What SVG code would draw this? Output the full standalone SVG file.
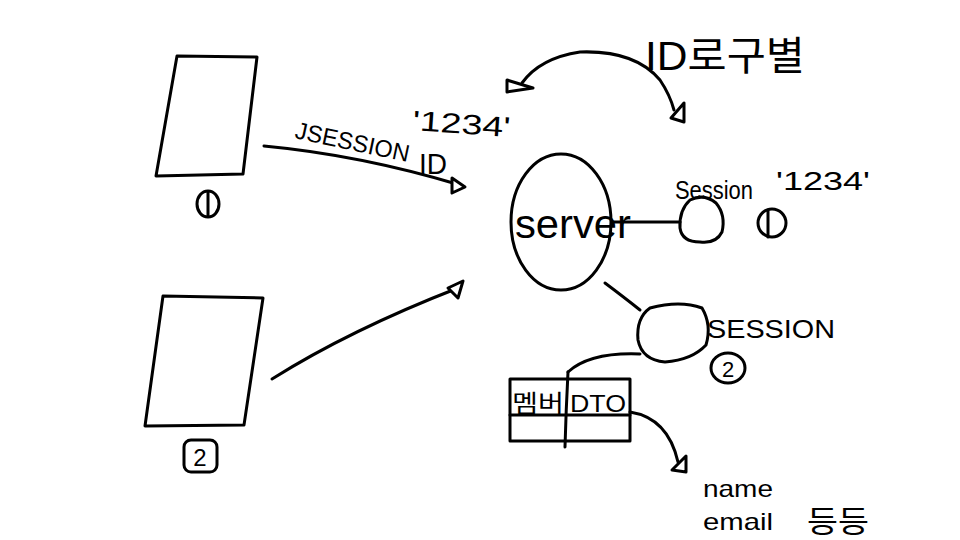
<svg xmlns="http://www.w3.org/2000/svg" width="960" height="540" viewBox="0 0 960 540">
<defs>
<style>
.s{fill:none;stroke:#000;stroke-width:3;stroke-linecap:round;stroke-linejoin:round}
.h{fill:#fff;stroke:#000;stroke-width:3;stroke-linejoin:round}
.t{font-family:"Liberation Sans","Noto Sans CJK KR",sans-serif;fill:#000}
</style>
</defs>
<rect width="960" height="540" fill="#fff"/>
<g id="client1">
<path class="s" d="M177,56 L257,57 L243,174 L156,176 Z"/>
<ellipse class="s" cx="208" cy="204" rx="11" ry="13"/>
<line class="s" x1="208" y1="192" x2="208" y2="216"/>
</g>
<g id="client2">
<path class="s" d="M163,296 L263,298 L244,425 L145,426 Z"/>
<rect class="s" x="184" y="440" width="33" height="32" rx="7"/>
<text class="t" x="200" y="466" font-size="24" text-anchor="middle">2</text>
</g>
<g id="server">
<ellipse class="s" cx="561" cy="222" rx="50" ry="68"/>
<text class="t" x="573" y="238" font-size="40" text-anchor="middle" textLength="116" lengthAdjust="spacingAndGlyphs">server</text>
</g>
<g id="session1">
<path class="s" d="M690,200 Q704,193 716,203 Q726,215 722,232 Q716,244 700,242 Q682,242 680,228 Q679,210 690,200 Z"/>
<text class="t" x="675" y="199" font-size="26" textLength="78" lengthAdjust="spacingAndGlyphs">Session</text>
<text class="t" x="776" y="190" font-size="26" textLength="94" lengthAdjust="spacingAndGlyphs">'1234'</text>
<ellipse class="s" cx="772" cy="223" rx="14" ry="14"/>
<line class="s" x1="768" y1="210" x2="768" y2="237"/>
</g>
<g id="session2">
<path class="s" d="M650,308 Q680,300 702,308 Q712,325 706,345 Q692,360 665,362 Q642,360 638,340 Q636,318 650,308 Z"/>
<text class="t" x="707" y="338" font-size="26" textLength="128" lengthAdjust="spacingAndGlyphs">SESSION</text>
<ellipse class="s" cx="728" cy="368" rx="17" ry="15"/>
<text class="t" x="728" y="377" font-size="22" text-anchor="middle">2</text>
</g>
<g id="dto">
<rect class="s" x="510" y="379" width="120" height="62"/>
<line class="s" x1="510" y1="415" x2="630" y2="415"/>
<path class="s" d="M568,372 Q566,410 565,447"/>
<text class="t" x="538" y="412" font-size="24" text-anchor="middle" textLength="52" lengthAdjust="spacingAndGlyphs">멤버</text>
<text class="t" x="598" y="412" font-size="24" text-anchor="middle" textLength="56" lengthAdjust="spacingAndGlyphs">DTO</text>
</g>
<g id="labels">
<text class="t" x="645" y="70" font-size="40" textLength="160" lengthAdjust="spacingAndGlyphs">ID로구별</text>
<text class="t" x="412" y="130" font-size="28" textLength="98" lengthAdjust="spacingAndGlyphs" transform="rotate(4 412 130)">'1234'</text>
<text class="t" x="294" y="138" font-size="24" textLength="116" lengthAdjust="spacingAndGlyphs" transform="rotate(12 294 138)">JSESSION</text>
<text class="t" x="419" y="174" font-size="30" textLength="28" lengthAdjust="spacingAndGlyphs">ID</text>
<text class="t" x="703" y="497" font-size="24" textLength="70" lengthAdjust="spacingAndGlyphs">name</text>
<text class="t" x="703" y="530" font-size="24" textLength="70" lengthAdjust="spacingAndGlyphs">email</text>
<text class="t" x="838" y="532" font-size="30" text-anchor="middle" textLength="62" lengthAdjust="spacingAndGlyphs">등등</text>
</g>
<g id="connectors">
<path class="s" d="M264,146 Q360,155 460,185"/>
<path class="h" d="M452,178 L465,187 L452,193 Z"/>
<path class="s" d="M272,379 Q350,330 458,288"/>
<path class="h" d="M448,288 L463,281 L458,298 Z"/>
<path class="s" d="M612,222 L680,222"/>
<path class="s" d="M605,283 Q625,298 640,310"/>
<path class="s" d="M640,354 Q590,352 568,372"/>
<path class="s" d="M630,412 Q668,418 678,462"/>
<path class="h" d="M672,470 L686,456 L686,472 Z"/>
<path class="s" d="M522,83 Q540,58 580,52 Q635,50 660,80 Q670,95 674,110"/>
<path class="h" d="M507,80 L533,88 L507,92 Z"/>
<path class="h" d="M671,118 L684,103 L684,122 Z"/>
</g>
</svg>
